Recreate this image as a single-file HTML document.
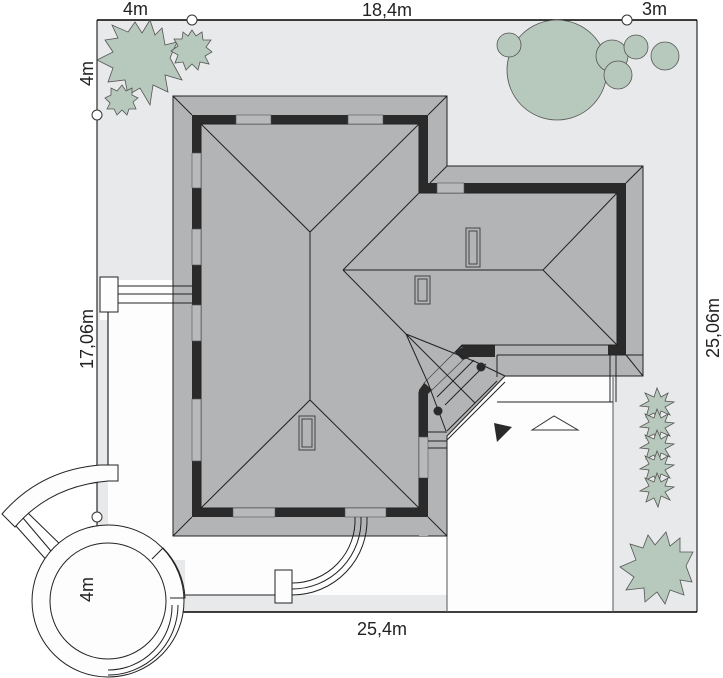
<!DOCTYPE html>
<html><head><meta charset="utf-8"><style>
html,body{margin:0;padding:0;background:#fff;}
svg{display:block;font-family:"Liberation Sans",sans-serif;}
</style></head><body>
<svg width="723" height="678" viewBox="0 0 723 678" xmlns="http://www.w3.org/2000/svg">
<defs>
<g id="sh"><polygon points="0,-17 4,-8 11,-12 8,-4 17,-3 8,2 13,10 4,6 1,17 -3,8 -11,12 -8,2 -17,1 -8,-4 -12,-12 -3,-8" fill="#b7c8bc" stroke="#555" stroke-width="0.8"/></g>
</defs>
<rect x="97" y="20" width="600" height="592" fill="#e8e9ea"/>
<polygon points="108,312 175,312 175,536 447,536 447,377 613,377 613,612 447,612 447,595 185,595 185,560 108,560" fill="#fcfdfc"/>
<rect x="100" y="280" width="75" height="40" fill="#fcfdfc"/>
<line x1="97" y1="20" x2="697" y2="20" stroke="#000" stroke-width="1.5"/>
<line x1="697" y1="20" x2="697" y2="612" stroke="#000" stroke-width="1"/>
<line x1="97" y1="612" x2="697" y2="612" stroke="#000" stroke-width="1.5"/>
<line x1="97" y1="20" x2="97" y2="612" stroke="#000" stroke-width="1"/>
<line x1="108" y1="312" x2="108" y2="465" stroke="#000" stroke-width="1"/>
<line x1="447" y1="536" x2="447" y2="612" stroke="#555" stroke-width="1"/>
<line x1="613" y1="377" x2="613" y2="612" stroke="#555" stroke-width="1"/>

<polygon points="173,96 447,96 447,166 643,166 643,376 505,376 447,436 447,536 173,536" fill="#b3b4b5" stroke="#222" stroke-width="1"/>
<polygon points="192,115 428,115 428,183 626,183 626,355 495,355 495,347 462,347 455,353 425,383 419,392 419,517 192,517" fill="#2a2a2a"/>
<polygon points="201,124 419,124 419,193 617,193 617,345 462,345 428,380 419,392 419,508 201,508" fill="#b3b4b5" stroke="#222" stroke-width="1"/>
<rect x="419" y="437" width="9" height="99" fill="#b3b4b5"/>
<rect x="495" y="345" width="113" height="11" fill="#b3b4b5"/>
<polygon points="463,347 495,347 495,357 470,357 463,360 455,352" fill="#2a2a2a"/>
<polygon points="424,383 432,390 428,394 428,437 419,437 419,390" fill="#2a2a2a"/>
<polygon points="455,352 463,360 432,390 424,383" fill="#b3b4b5" stroke="#333" stroke-width="0.6"/>
<g fill="#b8b9ba" stroke="#555" stroke-width="0.6">
<rect x="236" y="115" width="35" height="9"/><rect x="348" y="115" width="35" height="9"/>
<rect x="192" y="153" width="9" height="35"/><rect x="192" y="229" width="9" height="36"/>
<rect x="192" y="399" width="9" height="62"/><rect x="192" y="305" width="9" height="36"/>
<rect x="233" y="508" width="42" height="9"/><rect x="345" y="508" width="41" height="9"/>
<rect x="419" y="437" width="9" height="41"/><rect x="437" y="183" width="27" height="10"/>
</g>
<rect x="419" y="478" width="9" height="39" fill="#2a2a2a"/>
<g stroke="#222" stroke-width="1" fill="none">
<line x1="173" y1="96" x2="192" y2="115"/><line x1="447" y1="96" x2="428" y2="115"/>
<line x1="173" y1="536" x2="192" y2="517"/><line x1="447" y1="536" x2="428" y2="517"/>
<line x1="643" y1="166" x2="626" y2="183"/><line x1="643" y1="376" x2="626" y2="355"/>
<line x1="447" y1="166" x2="430" y2="183"/>
<polyline points="201,124 310,232 419,124"/>
<line x1="310" y1="232" x2="310" y2="400"/>
<polyline points="201,508 310,400 419,508"/>
<polyline points="617,193 543,270 617,345"/>
<line x1="343" y1="270" x2="543" y2="270"/>
<line x1="343" y1="270" x2="419" y2="193"/>
<line x1="343" y1="270" x2="406" y2="334"/>
<polyline points="406,334 428,383 446,431"/>
<polyline points="406,334 476,362 505,376"/>
<line x1="406" y1="334" x2="475" y2="403"/>
<line x1="495" y1="345" x2="617" y2="345"/>
<line x1="497" y1="355" x2="497" y2="377"/>
<line x1="497" y1="355" x2="643" y2="355"/>
<line x1="610" y1="355" x2="610" y2="402"/><line x1="616" y1="355" x2="616" y2="402"/>
<line x1="497" y1="402" x2="613" y2="402"/>
<line x1="428" y1="432" x2="447" y2="432"/><line x1="428" y1="441" x2="447" y2="441"/><line x1="428" y1="448" x2="447" y2="448"/>
<line x1="447" y1="431" x2="497" y2="381"/><line x1="447" y1="440" x2="505" y2="382"/>
<line x1="437" y1="397" x2="474" y2="360"/><line x1="445" y1="405" x2="486" y2="364"/>
</g>
<circle cx="481" cy="367" r="4.5" fill="#2a2a2a"/>
<circle cx="438" cy="411" r="4.5" fill="#2a2a2a"/>
<polygon points="494,423 512,427 497,442" fill="#2a2a2a"/>
<polygon points="532,430 554,416 578,430" fill="#fff" stroke="#333" stroke-width="1"/>
<g fill="#b3b4b5" stroke="#444" stroke-width="1">
<rect x="466" y="228" width="14" height="39"/><rect x="469" y="231" width="8" height="33"/>
<rect x="415" y="276" width="15" height="28"/><rect x="418" y="279" width="9" height="22"/>
<rect x="299" y="416" width="16" height="34"/><rect x="302" y="419" width="10" height="28"/>
</g>

<g fill="#fcfdfc" stroke="#222" stroke-width="1">
<line x1="118" y1="286" x2="192" y2="286"/><line x1="118" y1="294" x2="192" y2="294"/><line x1="118" y1="303" x2="192" y2="303"/>
<rect x="100" y="277" width="18" height="35"/>
<path d="M108,465 L118,465 L118,481 L108,481 Q50,486 15,527 L2,514 Q40,470 100,465 Z"/>
<path d="M16,526 L50,564 M23,518 L56,557 M28,513 L66,550" fill="none"/>
<circle cx="108" cy="601" r="76"/>
<circle cx="108" cy="601" r="58"/>
<path d="M152,559 L163,548 A76,76 0 0 1 185,598 L170,598" fill="none"/>
<path d="M108,675 A70,70 0 0 0 178,605 M108,670 A64,64 0 0 0 172,605" fill="none"/>
<line x1="185" y1="595" x2="275" y2="595"/>
<path d="M292,595 A75,75 0 0 0 367,517 M292,583 A63,63 0 0 0 355,517 M292,589 A69,69 0 0 0 361,517" fill="none"/>
<rect x="275" y="570" width="17" height="33"/>
</g>

<g fill="#b7c8bc" stroke="#555" stroke-width="0.8">
<polygon points="150,20 155,35 162,28 165,45 177,42 170,58 182,80 165,75 168,92 153,85 150,105 140,88 128,95 125,80 108,82 113,68 97,60 113,52 105,40 118,38 112,25 128,32 135,22 142,33"/>
<polygon points="192,30 196,36 202,32 203,40 211,40 206,47 212,52 205,56 209,64 200,62 198,70 192,64 186,70 183,62 175,63 178,55 171,51 178,46 174,39 182,39 183,32 188,36"/>
<polygon points="122,85 126,91 132,88 132,95 138,98 133,102 136,109 129,109 127,115 122,110 117,115 114,109 107,109 110,103 105,98 111,95 111,88 117,91"/>
</g>
<g fill="#b7c8bc" stroke="#555" stroke-width="0.8">
<circle cx="557" cy="70" r="50"/>
<circle cx="509" cy="45" r="12"/>
<circle cx="612" cy="56" r="16"/><circle cx="618" cy="75" r="14"/>
<circle cx="636" cy="47" r="12"/>
<circle cx="665" cy="56" r="14"/>
</g>
<use href="#sh" x="657" y="405"/><use href="#sh" x="657" y="426"/><use href="#sh" x="657" y="447"/>
<use href="#sh" x="657" y="468"/><use href="#sh" x="657" y="490"/>
<polygon points="666,532 670,546 680,538 680,552 693,552 686,566 692,582 680,580 684,595 670,590 665,604 657,592 645,602 644,588 626,590 634,577 620,567 636,560 630,544 643,548 648,535 655,545" fill="#b7c8bc" stroke="#555" stroke-width="0.8"/>

<g fill="#fff" stroke="#333" stroke-width="1">
<circle cx="192" cy="20" r="5"/><circle cx="627" cy="20" r="5"/>
<circle cx="97" cy="115" r="5"/><circle cx="97" cy="517" r="5"/>
</g>
<g font-size="18" fill="#222">
<text x="123" y="15">4m</text>
<text x="362" y="16">18,4m</text>
<text x="642" y="15">3m</text>
<text x="357" y="635">25,4m</text>
<text transform="translate(93,86) rotate(-90)">4m</text>
<text transform="translate(93,369) rotate(-90)">17,06m</text>
<text transform="translate(93,602) rotate(-90)">4m</text>
<text transform="translate(719,358) rotate(-90)">25,06m</text>
</g>
</svg>
</body></html>
